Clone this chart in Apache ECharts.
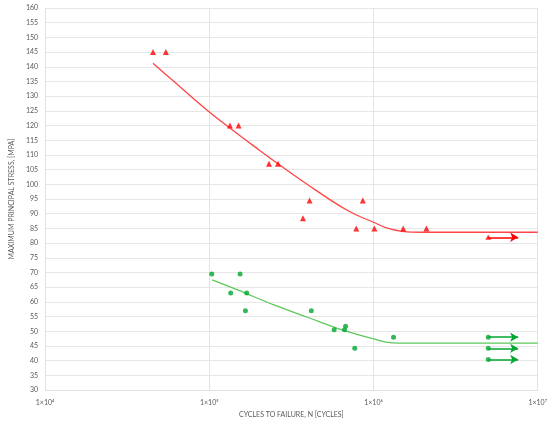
<!DOCTYPE html>
<html><head><meta charset="utf-8">
<script src="https://cdn.jsdelivr.net/npm/echarts@6/dist/echarts.min.js"></script>
<style>html,body{margin:0;padding:0;background:#fff}#c{width:550px;height:423px}</style>
</head><body><div id="c"></div>
<script>
// Red test data (triangles)
const redN = [45400, 54400, 133600, 150700, 231000, 262000, 408000, 372000, 861000, 785000, 1012000, 1517000, 2100000];
const redS = [145, 145, 120, 120, 107, 107, 94.5, 88.5, 94.5, 85, 85, 85, 85];
// Red runout
const redRunN = [5000000];
const redRunS = [82];
// Red fitted curve
const redCurveN = [45400, 60000, 100000, 200000, 400000, 700000, 1000000, 1200000, 1500000, 2000000, 10000000];
const redCurveS = [141.2, 135.3, 124.6, 111.8, 99.8, 91.0, 87.1, 85.2, 84.0, 83.7, 83.7];
// Green test data (circles)
const greenN = [103500, 154000, 135000, 169000, 166000, 418000, 576000, 666000, 676000, 769000, 1324000];
const greenS = [69.5, 69.5, 63, 63, 57, 57, 50.5, 50.5, 51.7, 44.2, 48];
// Green runouts
const greenRunN = [5000000, 5000000, 5000000];
const greenRunS = [48, 44.2, 40.4];
// Green fitted curve
const greenCurveN = [104000, 150000, 250000, 400000, 660000, 1000000, 1300000, 2000000, 10000000];
const greenCurveS = [67.5, 64.0, 58.9, 54.7, 50.3, 47.4, 46.1, 46.0, 46.0];
const runEndN = 7600000;
const xTicks = {10000: '1×10⁴', 100000: '1×10⁵', 1000000: '1×10⁶', 10000000: '1×10⁷'};

const zip = (a, b) => a.map((v, i) => [v, b[i]]);
const RED = '#FF0000', GREEN = '#00A62E';
const font = 'Lato, "Open Sans", sans-serif';
const txt = '#595959';

function runoutSeries(ns, ss, color, sym, size) {
  return {
    type: 'scatter', data: zip(ns, ss), symbol: sym, symbolSize: size,
    itemStyle: {color: color}, z: 5,
    markLine: {
      silent: true, symbol: ['none', 'arrow'], symbolSize: [7, 8],
      label: {show: false},
      lineStyle: {color: color, width: 1.5, type: 'solid'},
      data: ns.map((n, i) => [{coord: [n, ss[i]]}, {coord: [runEndN, ss[i]]}])
    }
  };
}

const chart = echarts.init(document.getElementById('c'), null, {renderer: 'canvas'});
chart.setOption({
  animation: false,
  grid: {left: 36.5, right: 10.7, top: 8, bottom: 28, containLabel: false},
  xAxis: {
    type: 'log', logBase: 10, min: 10000, max: 10000000,
    name: 'CYCLES TO FAILURE, N [CYCLES]', nameLocation: 'middle', nameGap: 16,
    nameTextStyle: {color: txt, fontSize: 7, fontFamily: font},
    axisLine: {show: true, lineStyle: {color: '#E0E0E0'}},
    axisTick: {show: false},
    axisLabel: {color: txt, fontSize: 7, fontFamily: font, margin: 9,
      formatter: v => xTicks[Math.round(v)] || ''},
    splitLine: {show: true, lineStyle: {color: '#E3E3E3', width: 1}},
    minorSplitLine: {show: false}
  },
  yAxis: {
    type: 'value', min: 30, max: 160, interval: 5,
    name: 'MAXIMUM PRINCIPAL STRESS, [MPA]', nameLocation: 'middle', nameGap: 24,
    nameTextStyle: {color: txt, fontSize: 7, fontFamily: font},
    axisLine: {show: false}, axisTick: {show: false},
    axisLabel: {color: txt, fontSize: 7, fontFamily: font, margin: 7},
    splitLine: {show: true, lineStyle: {color: '#E6E6E6', width: 1}}
  },
  series: [
    {type: 'line', data: zip(redCurveN, redCurveS), smooth: 0.4, symbol: 'none',
      lineStyle: {color: '#FF4545', width: 1.3}, z: 3},
    {type: 'line', data: zip(greenCurveN, greenCurveS), smooth: 0.4, symbol: 'none',
      lineStyle: {color: '#5CC85C', width: 1.3}, z: 3},
    {type: 'scatter', data: zip(redN, redS), symbol: 'triangle', symbolSize: [6, 6],
      itemStyle: {color: RED}, z: 5},
    {type: 'scatter', data: zip(greenN, greenS), symbol: 'circle', symbolSize: 5,
      itemStyle: {color: GREEN}, z: 5},
    runoutSeries(redRunN, redRunS, RED, 'triangle', [6, 5]),
    runoutSeries(greenRunN, greenRunS, GREEN, 'circle', 5)
  ]
});
</script></body></html>
